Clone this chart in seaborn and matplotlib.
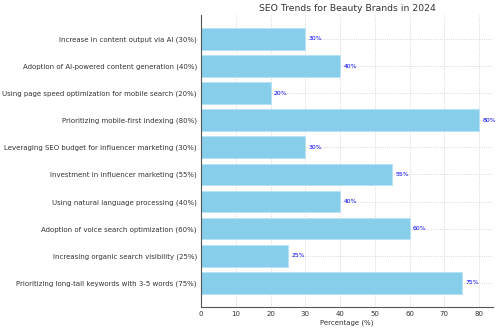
import matplotlib
matplotlib.use("Agg")
import matplotlib.pyplot as plt
import seaborn as sns
import pandas as pd

categories = [
    "Increase in content output via AI (30%)",
    "Adoption of AI-powered content generation (40%)",
    "Using page speed optimization for mobile search (20%)",
    "Prioritizing mobile-first indexing (80%)",
    "Leveraging SEO budget for influencer marketing (30%)",
    "Investment in influencer marketing (55%)",
    "Using natural language processing (40%)",
    "Adoption of voice search optimization (60%)",
    "Increasing organic search visibility (25%)",
    "Prioritizing long-tail keywords with 3-5 words (75%)",
]
values = [30, 40, 20, 80, 30, 55, 40, 60, 25, 75]

df = pd.DataFrame({"trend": categories, "pct": values})

sns.set_style("white")
plt.rcParams["font.family"] = ["DejaVu Sans"]

fig, ax = plt.subplots(figsize=(5, 3.3), dpi=100)
sns.barplot(data=df, y="trend", x="pct", orient="h", color="skyblue",
            saturation=1, width=0.8, edgecolor="#b8e2f4", linewidth=0.6, ax=ax)

for bar, v in zip(ax.patches, values):
    ax.text(bar.get_width() + 1, bar.get_y() + bar.get_height() / 2, f"{v}%",
            va="center", ha="left", fontsize=4.4, color="blue")

ax.set_xlim(0, 84)
ax.set_ylim(len(values) - 1 + 0.89, -0.89)
ax.set_title("SEO Trends for Beauty Brands in 2024", fontsize=6.7, color="#333333", pad=3)
ax.set_xlabel("Percentage (%)", fontsize=5.0, color="#333333", labelpad=1.5)
ax.set_ylabel("")
ax.tick_params(axis="both", labelsize=5.0, colors="#333333", length=1.5, width=0.6, pad=1.5)
ax.grid(True, linestyle=":", linewidth=0.6, color="#cccccc")
ax.set_axisbelow(True)
for s in ["top", "right"]:
    ax.spines[s].set_visible(False)
for s in ["left", "bottom"]:
    ax.spines[s].set_color("#555555")
    ax.spines[s].set_linewidth(0.8)

fig.subplots_adjust(left=0.402, right=0.986, top=0.955, bottom=0.07)
fig.savefig("out.png", dpi=100)
